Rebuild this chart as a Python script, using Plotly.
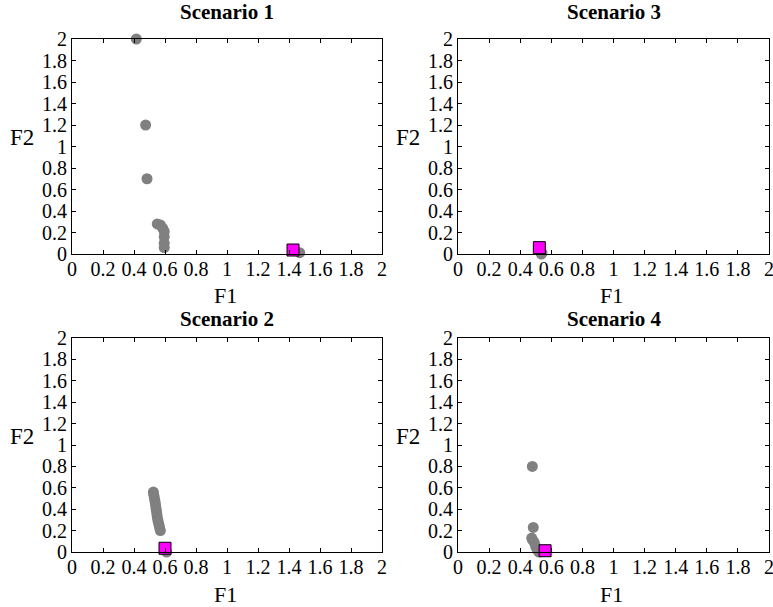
import plotly.graph_objects as go

# ---- data ----
tick_vals = [0, 0.2, 0.4, 0.6, 0.8, 1, 1.2, 1.4, 1.6, 1.8, 2]
tick_text = ["0", "0.2", "0.4", "0.6", "0.8", "1", "1.2", "1.4", "1.6", "1.8", "2"]

s1_f1 = [0.415, 0.475, 0.484, 0.55, 0.57, 0.585, 0.595, 0.595, 0.595, 0.595, 1.469]
s1_f2 = [2.0, 1.2, 0.70, 0.28, 0.27, 0.24, 0.21, 0.16, 0.10, 0.06, 0.012]
s1_best_f1 = [1.426]
s1_best_f2 = [0.037]

s2_f1 = [0.525, 0.528, 0.532, 0.536, 0.539, 0.542, 0.545, 0.548, 0.551, 0.555, 0.56, 0.565, 0.57, 0.61]
s2_f2 = [0.56, 0.53, 0.50, 0.47, 0.44, 0.41, 0.38, 0.35, 0.32, 0.29, 0.26, 0.23, 0.20, 0.0]
s2_best_f1 = [0.60]
s2_best_f2 = [0.035]

s3_f1 = [0.536, 0.54]
s3_f2 = [0.0, 0.01]
s3_best_f1 = [0.523]
s3_best_f2 = [0.059]

s4_f1 = [0.478, 0.484, 0.474, 0.48, 0.49, 0.50, 0.51, 0.52]
s4_f2 = [0.80, 0.23, 0.13, 0.11, 0.09, 0.05, 0.02, 0.0]
s4_best_f1 = [0.56]
s4_best_f2 = [0.012]

titles = ["Scenario 1", "Scenario 3", "Scenario 2", "Scenario 4"]

W, H = 773, 607
FONT = "Liberation Serif"
GRAY = "#808080"
MAG = "#FF00FF"

# panel pixel boxes: (left, right, top, bottom, title offset, F1 offset)
boxes = [(72, 382, 39, 254, 27, 41), (458, 769, 39, 254, 27, 41),
         (72, 382, 338, 552, 19, 42), (458, 769, 338, 552, 19, 42)]
panels = [
    (s1_f1, s1_f2, s1_best_f1, s1_best_f2),
    (s3_f1, s3_f2, s3_best_f1, s3_best_f2),
    (s2_f1, s2_f2, s2_best_f1, s2_best_f2),
    (s4_f1, s4_f2, s4_best_f1, s4_best_f2),
]

fig = go.Figure()
layout = dict(
    width=W, height=H, margin=dict(l=0, r=0, t=0, b=0, autoexpand=False),
    paper_bgcolor="white", plot_bgcolor="white", showlegend=False,
    font=dict(family=FONT, color="black"),
)
annotations = []
for i, ((l, r, t, b, toff, xoff), (fx, fy, bx, by)) in enumerate(zip(boxes, panels)):
    k = "" if i == 0 else str(i + 1)
    xa, ya = "x" + k, "y" + k
    fig.add_trace(go.Scatter(x=fx, y=fy, mode="markers", xaxis=xa, yaxis=ya, cliponaxis=False,
                             marker=dict(symbol="circle", size=11, color=GRAY, line=dict(width=0))))
    fig.add_trace(go.Scatter(x=bx, y=by, mode="markers", xaxis=xa, yaxis=ya, cliponaxis=False,
                             marker=dict(symbol="square", size=12, color=MAG, line=dict(width=1, color="black"))))
    common = dict(range=[0, 2], tickmode="array", tickvals=tick_vals, ticktext=tick_text,
                  ticks="inside", ticklen=4, tickcolor="black", showline=True, linecolor="black",
                  linewidth=1, mirror="ticks", showgrid=False, zeroline=False, fixedrange=True,
                  automargin=False, ticklabeloverflow="allow",
                  tickfont=dict(family=FONT, size=20, color="black"))
    layout["xaxis" + k] = dict(common, domain=[l / W, r / W], anchor=ya, ticklabelstandoff=-3)
    layout["yaxis" + k] = dict(common, domain=[1 - b / H, 1 - t / H], anchor=xa)
    cx = (l + r) / 2
    annotations.append(dict(text="<b>%s</b>" % titles[i], x=cx / W, y=1 - (t - toff) / H,
                            xref="paper", yref="paper", showarrow=False, xanchor="center",
                            yanchor="middle", font=dict(family=FONT, size=21, color="black")))
    annotations.append(dict(text="F1", x=(cx - 2) / W, y=1 - (b + xoff) / H,
                            xref="paper", yref="paper", showarrow=False, xanchor="center",
                            yanchor="middle", font=dict(family=FONT, size=22, color="black")))
    annotations.append(dict(text="F2", x=(l - 50) / W, y=1 - ((t + b) / 2 - 9) / H,
                            xref="paper", yref="paper", showarrow=False, xanchor="center",
                            yanchor="middle", font=dict(family=FONT, size=23, color="black")))

layout["annotations"] = annotations
fig.update_layout(**layout)
fig.write_html("out.html")
